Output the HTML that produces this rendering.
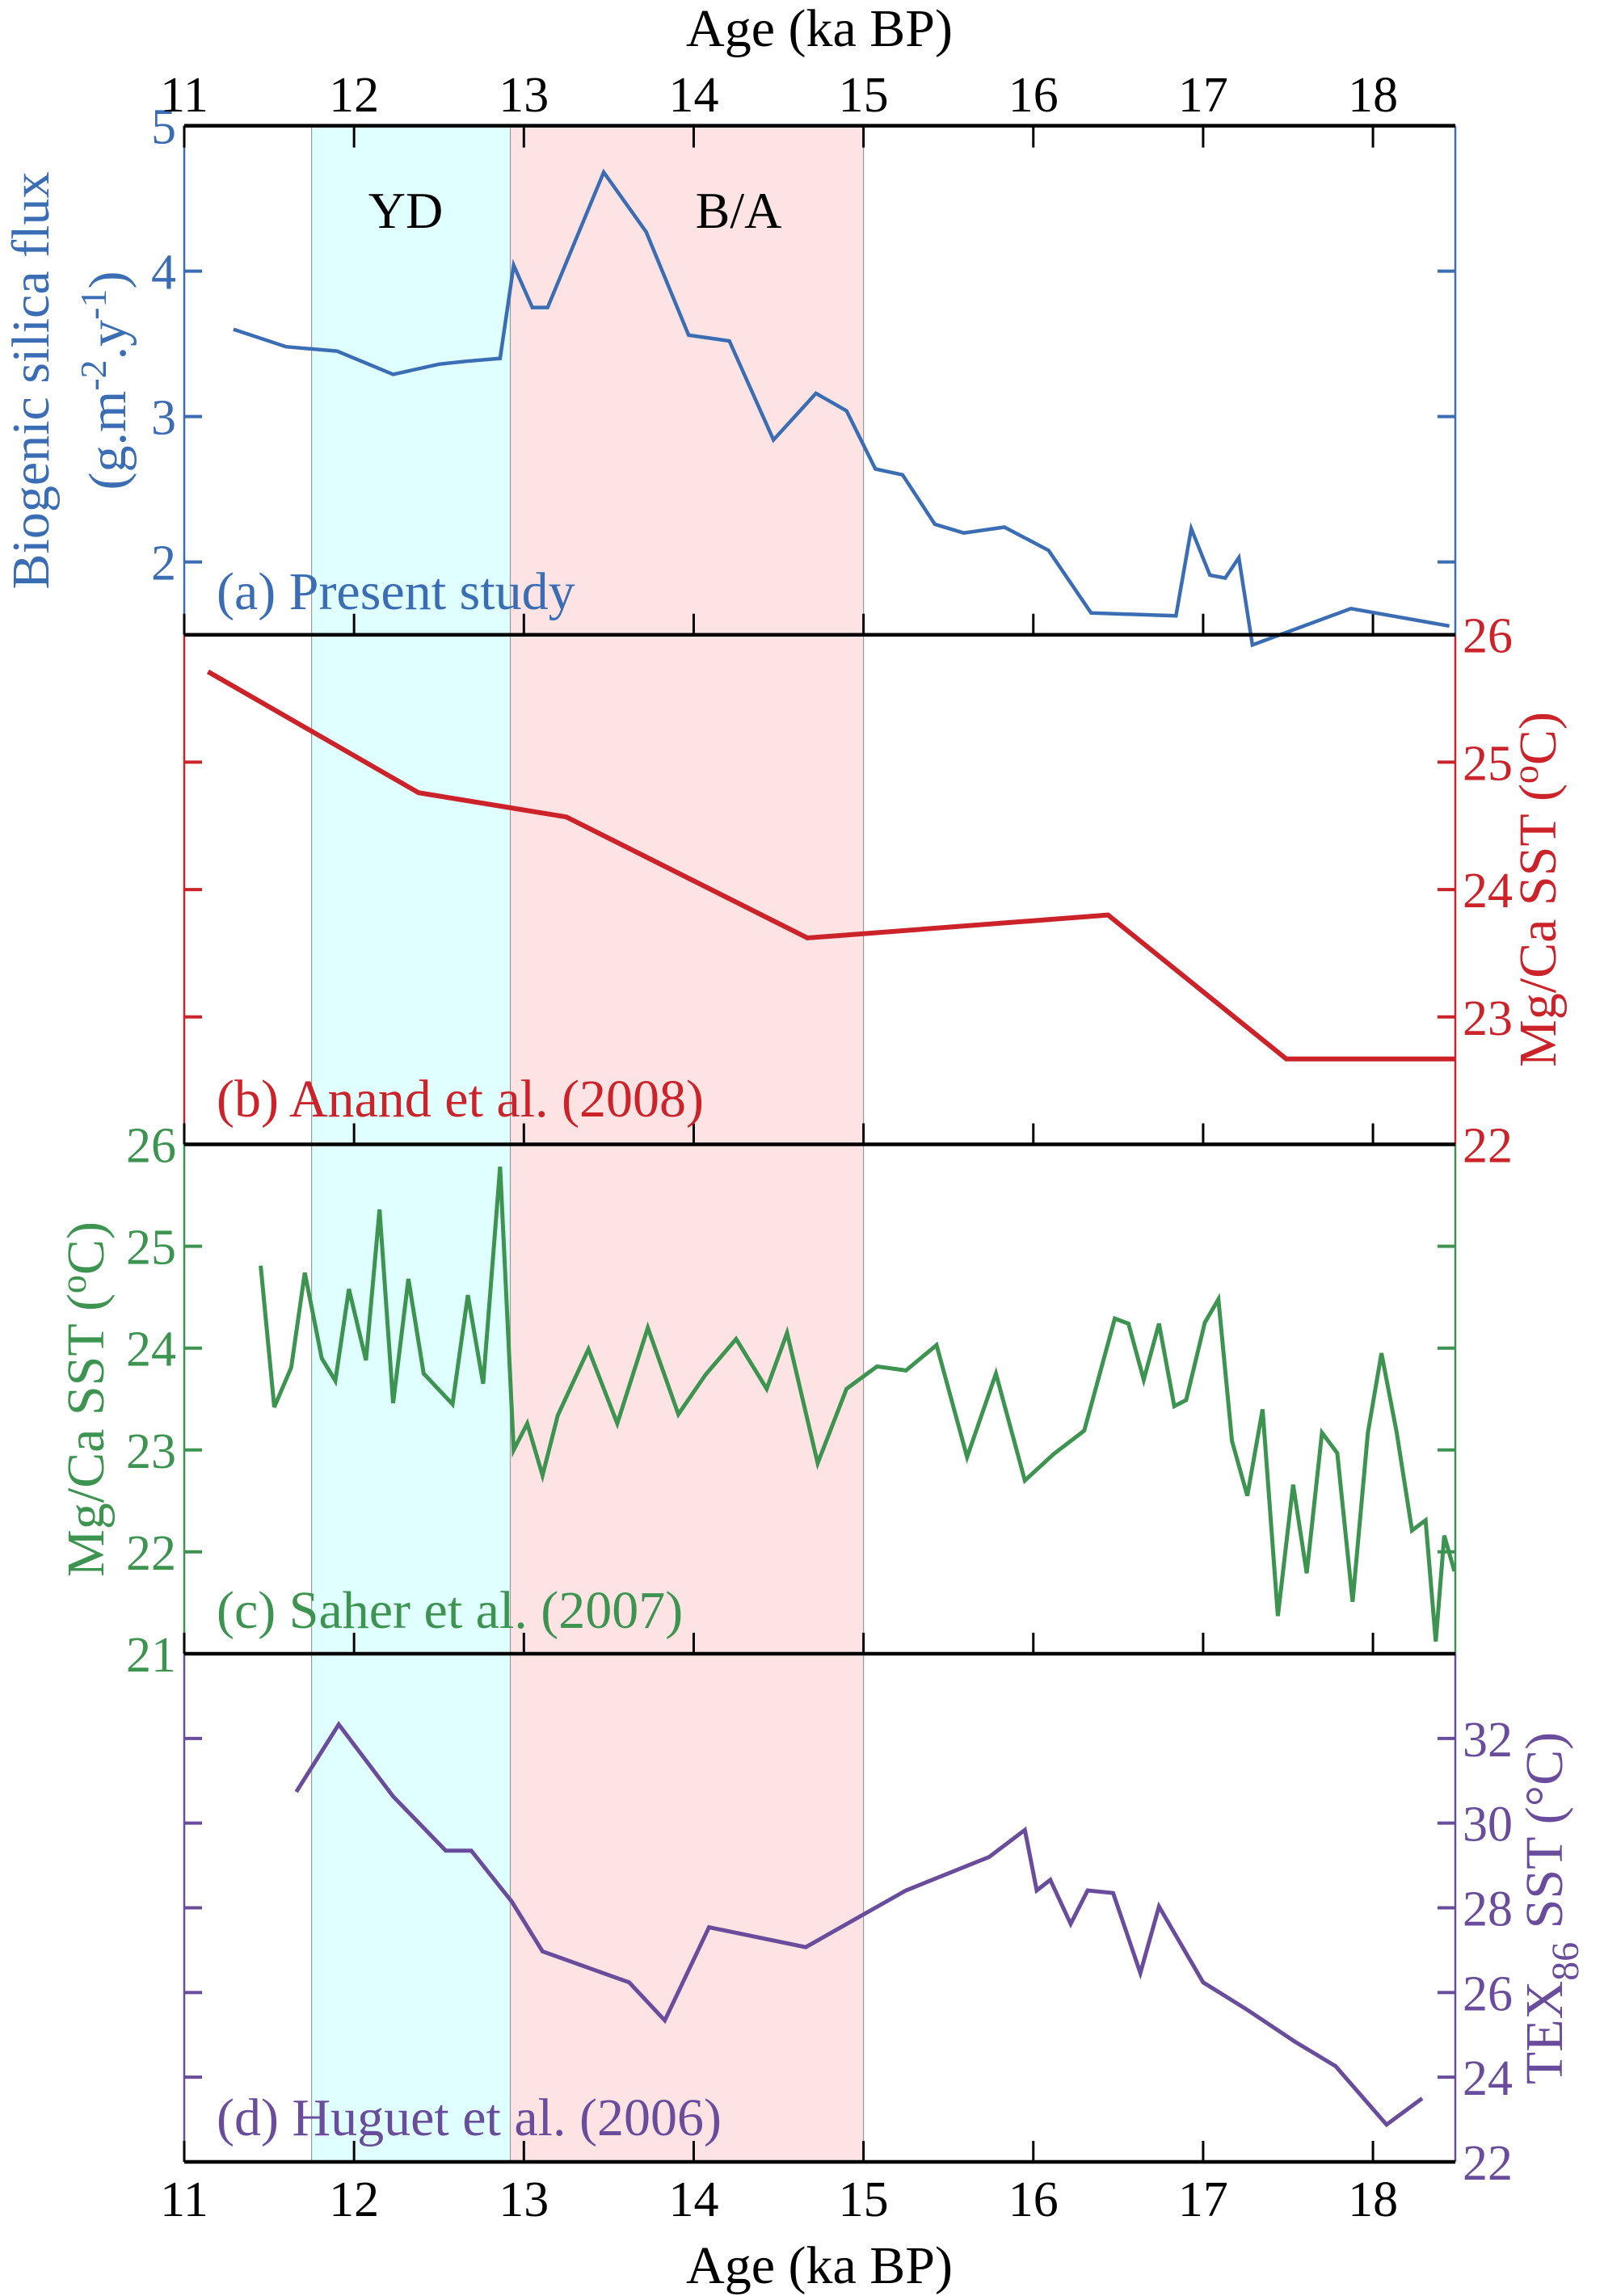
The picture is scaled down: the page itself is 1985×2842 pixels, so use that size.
<!DOCTYPE html>
<html><head><meta charset="utf-8"><style>
html,body{margin:0;padding:0;background:#fff}
svg{display:block;font-family:"Liberation Serif",serif}
</style></head><body>
<svg id="chart" width="1985" height="2842" viewBox="0 0 1985 2842" xmlns="http://www.w3.org/2000/svg"></svg>
<script>
const xTicks=[11,12,13,14,15,16,17,18];
const ydAge=[11.75,12.92];
const baAge=[12.92,15.0];
const aAge=[11.29,11.60,11.90,12.23,12.50,12.66,12.86,12.94,13.05,13.14,13.47,13.72,13.97,14.21,14.47,14.72,14.90,15.07,15.23,15.42,15.59,15.83,16.09,16.34,16.84,16.93,17.04,17.13,17.21,17.29,17.87,18.45];
const aVal=[3.60,3.48,3.45,3.29,3.36,3.38,3.40,4.04,3.75,3.75,4.68,4.27,3.56,3.52,2.84,3.16,3.04,2.64,2.60,2.26,2.20,2.24,2.08,1.65,1.63,2.23,1.91,1.89,2.03,1.43,1.68,1.56];
const aTicks=[2,3,4,5];
const bAge=[11.14,12.38,13.25,14.67,16.44,17.49,18.49];
const bVal=[25.71,24.76,24.57,23.62,23.80,22.67,22.67];
const bTicks=[22,23,24,25,26];
const cAge=[11.45,11.53,11.63,11.71,11.81,11.89,11.97,12.07,12.15,12.23,12.32,12.41,12.58,12.67,12.76,12.86,12.94,13.02,13.11,13.20,13.38,13.55,13.73,13.91,14.07,14.25,14.43,14.55,14.73,14.90,15.08,15.25,15.43,15.61,15.78,15.95,16.12,16.30,16.48,16.56,16.65,16.74,16.83,16.90,17.01,17.09,17.17,17.26,17.35,17.44,17.53,17.61,17.70,17.79,17.88,17.97,18.05,18.14,18.23,18.31,18.37,18.42,18.48];
const cVal=[24.81,23.42,23.81,24.74,23.90,23.68,24.58,23.88,25.36,23.46,24.68,23.75,23.45,24.52,23.65,25.78,23.00,23.26,22.75,23.34,23.99,23.26,24.20,23.35,23.74,24.09,23.60,24.15,22.87,23.60,23.82,23.78,24.03,22.93,23.75,22.70,22.96,23.19,24.29,24.24,23.69,24.24,23.43,23.49,24.25,24.48,23.09,22.55,23.40,21.37,22.66,21.79,23.17,22.97,21.51,23.17,23.95,23.17,22.21,22.31,21.12,22.16,21.81];
const cTicks=[21,22,23,24,25,26];
const dAge=[11.66,11.91,12.23,12.54,12.69,12.93,13.11,13.62,13.83,14.09,14.66,15.25,15.74,15.95,16.02,16.10,16.22,16.32,16.47,16.63,16.74,17.00,17.26,17.54,17.78,18.08,18.29];
const dVal=[30.74,32.33,30.63,29.35,29.35,28.14,26.97,26.24,25.34,27.54,27.07,28.41,29.20,29.84,28.41,28.66,27.62,28.41,28.35,26.46,28.03,26.24,25.59,24.84,24.26,22.88,23.50];
const dTicks=[22,24,26,28,30,32];

const NS="http://www.w3.org/2000/svg";
const svg=document.getElementById('chart');
const X0=228,X1=1801,A0=11,A1=18.485;
function xs(a){return X0+(a-A0)/(A1-A0)*(X1-X0);}
function mk(tag,attrs,parent){const e=document.createElementNS(NS,tag);for(const k in attrs)e.setAttribute(k,attrs[k]);(parent||svg).appendChild(e);return e;}
const panels=[
 {key:'a',top:155.6,bot:785.7,min:1.5,max:5,color:'#3a6db4',ticks:aTicks,side:'left',age:aAge,val:aVal,lw:4.5},
 {key:'b',top:785.7,bot:1416.5,min:22,max:26,color:'#cc2229',ticks:bTicks,side:'right',age:bAge,val:bVal,lw:6},
 {key:'c',top:1416.5,bot:2047,min:21,max:26,color:'#3c9450',ticks:cTicks,side:'left',age:cAge,val:cVal,lw:5},
 {key:'d',top:2047,bot:2676,min:22,max:34,color:'#6a4c9c',ticks:dTicks,side:'right',age:dAge,val:dVal,lw:5}
];
const TOP=155.6,BOT=2676;
let r=mk('rect',{x:xs(ydAge[0]),y:TOP,width:xs(ydAge[1])-xs(ydAge[0]),height:BOT-TOP,fill:'#e0ffff'});


r=mk('rect',{x:xs(baAge[0]),y:TOP,width:xs(baAge[1])-xs(baAge[0]),height:BOT-TOP,fill:'#fde3e3'});


[ydAge[0],ydAge[1],baAge[1]].forEach(a=>{
 const l=mk('line',{x1:xs(a),x2:xs(a),y1:TOP,y2:BOT,stroke:'#999',"stroke-width":1.2});
 
 
});
panels.forEach(p=>{
 const ys=v=>p.bot-(v-p.min)/(p.max-p.min)*(p.bot-p.top);
 const g=mk('g',{});
 
 
 mk('line',{x1:X0,x2:X0,y1:p.top,y2:p.bot,stroke:p.color,"stroke-width":2.5},g);
 mk('line',{x1:X1,x2:X1,y1:p.top,y2:p.bot,stroke:p.color,"stroke-width":2.5},g);
 p.ticks.forEach(t=>{
  const y=ys(t);
  mk('line',{x1:X0,x2:X0+22,y1:y,y2:y,stroke:p.color,"stroke-width":4},g);
  mk('line',{x1:X1-22,x2:X1,y1:y,y2:y,stroke:p.color,"stroke-width":4},g);
  const tx=mk('text',{x:p.side==='left'?218:1810,y:y+22,fill:p.color,"font-size":62,"text-anchor":p.side==='left'?'end':'start'},g);
  tx.textContent=t;
  
  
 });
 xTicks.forEach(t=>{
  mk('line',{x1:xs(t),x2:xs(t),y1:p.bot,y2:p.bot-26,stroke:'#000',"stroke-width":3},g);
 });
 const pts=p.age.map((a,i)=>xs(a).toFixed(1)+','+ys(p.val[i]).toFixed(1)).join(' ');
 const pl=mk('polyline',{points:pts,fill:'none',stroke:p.color,"stroke-width":p.lw,"stroke-linejoin":'miter'},g);
 
 
});
[155.6,785.7,1416.5,2047,2676].forEach(y=>{
 const l=mk('line',{x1:X0,x2:X1,y1:y,y2:y,stroke:'#000',"stroke-width":4.5});
 
 
});
xTicks.forEach(t=>{
 mk('line',{x1:xs(t),x2:xs(t),y1:TOP,y2:TOP+27,stroke:'#000',"stroke-width":3});
 let tx=mk('text',{x:xs(t),y:138,"font-size":62,"text-anchor":'middle',fill:'#000'});
 tx.textContent=t;
 
 
 tx=mk('text',{x:xs(t),y:2743,"font-size":62,"text-anchor":'middle',fill:'#000'});
 tx.textContent=t;
 
 
});
</script>
<svg style="position:absolute;left:0;top:0" width="1985" height="2842" xmlns="http://www.w3.org/2000/svg" font-family="Liberation Serif, serif">
 <text x="1014" y="57" font-size="66" text-anchor="middle">Age (ka BP)</text>
 <text x="1014" y="2826" font-size="66" text-anchor="middle">Age (ka BP)</text>
 <text x="502" y="282" font-size="64" text-anchor="middle">YD</text>
 <text x="914" y="282" font-size="64" text-anchor="middle">B/A</text>
 <text x="268" y="754" font-size="66" fill="#3a6db4">(a) Present study</text>
 <text x="268" y="1382" font-size="66" fill="#cc2229">(b) Anand et al. (2008)</text>
 <text x="268" y="2015" font-size="66" fill="#3c9450">(c) Saher et al. (2007)</text>
 <text x="268" y="2643" font-size="66" fill="#6a4c9c">(d) Huguet et al. (2006)</text>
 <text transform="translate(60,471) rotate(-90)" font-size="66" text-anchor="middle" fill="#3a6db4">Biogenic silica flux</text>
 <text transform="translate(155,471) rotate(-90)" font-size="66" text-anchor="middle" fill="#3a6db4">(g.m<tspan dy="-24" font-size="46">-2</tspan><tspan dy="24">.y</tspan><tspan dy="-24" font-size="46">-1</tspan><tspan dy="24">)</tspan></text>
 <text transform="translate(1925,1101) rotate(-90)" font-size="66" text-anchor="middle" fill="#cc2229">Mg/Ca SST (<tspan dy="-22" font-size="46">o</tspan><tspan dy="22">C)</tspan></text>
 <text transform="translate(128,1732) rotate(-90)" font-size="66" text-anchor="middle" fill="#3c9450">Mg/Ca SST (<tspan dy="-22" font-size="46">o</tspan><tspan dy="22">C)</tspan></text>
 <text transform="translate(1933,2362) rotate(-90)" font-size="66" text-anchor="middle" fill="#6a4c9c">TEX<tspan dy="20" font-size="48">86</tspan><tspan dy="-20"> SST (°C)</tspan></text>
</svg>
</body></html>
